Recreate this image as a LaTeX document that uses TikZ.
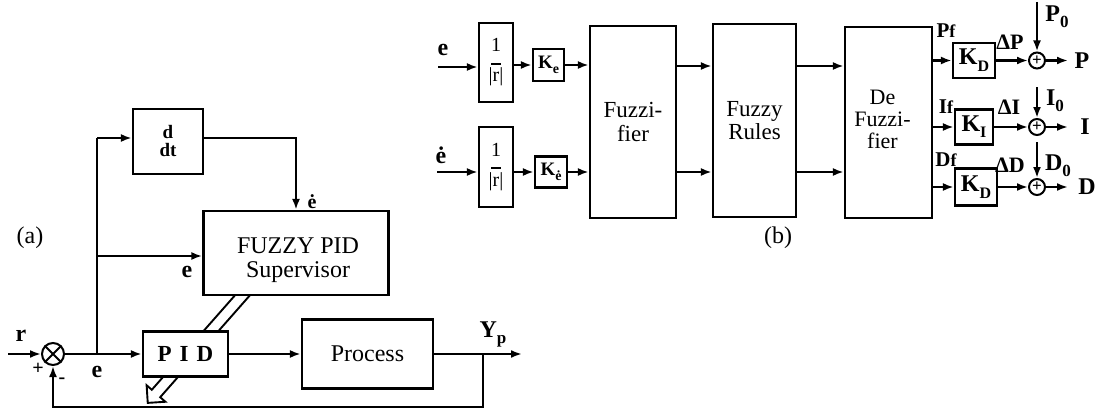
\documentclass[tikz,border=0pt]{standalone}
\usepackage{fontspec}
\setmainfont{Liberation Serif}
\usetikzlibrary{arrows.meta,calc}
\newcommand{\fs}[1]{\fontsize{#1}{#1}\selectfont}
\newcommand{\lowtxt}[3]{\raisebox{#1}{\fs{#2}#3}}
\newcommand{\invr}{\begin{tabular}{@{}c@{}}1\\[-7pt]\rule{10pt}{1.6pt}\\[-3pt]|r|\end{tabular}}
\begin{document}
\begin{tikzpicture}[x=1pt,y=-1pt,
  blk/.style={draw, line width=2.2pt, fill=white, inner sep=0pt, align=center},
  ln/.style={line width=2.2pt},
  arr/.style={line width=2.2pt, -{Latex[length=11pt,width=8pt]}},
  lbl/.style={inner sep=0pt},
  sumc/.style={draw, circle, line width=2pt, fill=white, inner sep=0pt, minimum size=16pt, font=\bfseries\fs{17}}
]
\useasboundingbox (0,0) rectangle (1102,412);

% ---------------- (a) ----------------
% hollow double-line arrow from supervisor to PID
\coordinate (hA) at (248,289);
\coordinate (hB) at (156,393.5);
\draw[line width=1.9pt, fill=white, line join=miter]
  ($(hA)!5.6pt!90:(hB)$) -- ($(hB)!5.6pt!-90:(hA)$) -- ($(hB)!12.5pt!-90:(hA)$)
  -- ($(hB)!12.5pt!180:(hA)$) -- ($(hB)!12.5pt!90:(hA)$) -- ($(hB)!5.6pt!90:(hA)$)
  -- ($(hA)!5.6pt!-90:(hB)$) -- cycle;

\node[blk, minimum width=70pt, minimum height=65pt, font=\bfseries\fs{19}, execute at begin node=\setlength{\baselineskip}{18pt}] (ddt) at (168,141.5) {d\\dt};
\node[blk, minimum width=185pt, minimum height=84pt] (fuzzy) at (296,253) {};
\node[lbl, align=center, font=\fs{24}] (fuzzyt) at (298,260) {FUZZY PID\\Supervisor};
\node[blk, minimum width=85pt, minimum height=45pt, font=\bfseries\fs{23}] (pid) at (185.5,354) {P\hspace{8pt}I\hspace{8pt}D};
\node[blk, minimum width=131pt, minimum height=69pt, font=\fs{24}] (proc) at (367.5,354) {\raisebox{-4pt}{Process}};
\node[draw, circle, line width=2pt, minimum size=22pt, inner sep=0pt] (sum) at (53,354) {};
\draw[line width=1.8pt] (sum.45) -- (sum.225) (sum.135) -- (sum.315);

\coordinate (rin) at (8,354);
\coordinate (j) at (97,354);
\coordinate (je) at (97,256);
\coordinate (jd) at (97,138);
\coordinate (yout) at (522,354);
\coordinate (fb) at (483,354);
\coordinate (fbb) at (483,407);

\draw[arr] (rin) -- (sum.west);
\draw[arr] (sum.east) -- (pid.west);
\draw[ln] (j) -- (jd);
\draw[arr] (jd) -- (jd -| ddt.west);
\draw[arr] (je) -- (je -| fuzzy.west);
\draw[arr] (ddt.east |- jd) -| (fuzzy.north);
\draw[arr] (pid.east) -- (proc.west);
\draw[arr] (proc.east) -- (yout);
\draw[arr] (fb) -- (fbb) -| (sum.south);

\node[lbl, font=\fs{24}] (la) at (30,238) {(a)};
\node[lbl, font=\bfseries\fs{24}] (lr) at (21,336) {r};
\node[lbl, font=\bfseries\fs{20}] (lplus) at (38,369) {+};
\node[lbl, font=\bfseries\fs{20}] (lminus) at (62,381) {-};
\node[lbl, font=\bfseries\fs{24}] (le1) at (97,372) {e};
\node[lbl, font=\bfseries\fs{24}] (le2) at (187,272) {e};
\node[lbl, font=\bfseries\fs{20}] (led) at (312,202) {ė};
\node[lbl, font=\bfseries\fs{24}] (lyp) at (493,334) {Y\lowtxt{-6pt}{17}{p}};

% ---------------- (b) ----------------
\node[blk, minimum width=34pt, minimum height=79pt, font=\fs{20}] (inv1) at (496,62.5) {\invr};
\node[blk, minimum width=31pt, minimum height=32pt, font=\bfseries\fs{19}] (ke) at (548.5,65) {K\lowtxt{-5pt}{14}{e}};
\node[blk, minimum width=34pt, minimum height=80pt, font=\fs{20}] (inv2) at (496,167) {\invr};
\node[blk, minimum width=32pt, minimum height=31pt, font=\bfseries\fs{19}] (ked) at (551,172) {K\lowtxt{-5pt}{14}{ė}};
\node[blk, minimum width=86pt, minimum height=192pt, font=\fs{23}, execute at begin node=\setlength{\baselineskip}{24pt}] (fz) at (633,122) {Fuzzi-\\fier};
\node[blk, minimum width=83pt, minimum height=193pt, font=\fs{23}, execute at begin node=\setlength{\baselineskip}{23pt}] (rules) at (754.5,120.5) {Fuzzy\\Rules};
\node[blk, minimum width=87pt, minimum height=191pt, font=\fs{22}, execute at begin node=\setlength{\baselineskip}{22pt}] (defz) at (888.5,122.5) {\hspace*{-12pt}\begin{tabular}{@{}c@{}}De\\Fuzzi-\\fier\end{tabular}};

\coordinate (r1) at (0,66);
\coordinate (r2) at (0,172);
\coordinate (ein) at (438,67);
\coordinate (edin) at (437,172);

\draw[arr] (ein) -- (ein -| inv1.west);
\draw[arr] (inv1.east |- ke) -- (ke.west);
\draw[arr] (ke.east) -- (ke.east -| fz.west);
\draw[arr] (edin) -- (edin -| inv2.west);
\draw[arr] (inv2.east |- ked) -- (ked.west);
\draw[arr] (ked.east) -- (ked.east -| fz.west);
\draw[arr] (fz.east |- r1) -- (rules.west |- r1);
\draw[arr] (fz.east |- r2) -- (rules.west |- r2);
\draw[arr] (rules.east |- r1) -- (defz.west |- r1);
\draw[arr] (rules.east |- r2) -- (defz.west |- r2);

\node[lbl, font=\bfseries\fs{24}] (lbe) at (443,50) {e};
\node[lbl, font=\bfseries\fs{24}] (lbed) at (441,155) {ė};

% output gains
\node[blk, minimum width=42pt, minimum height=35pt, font=\bfseries\fs{24}] (kp) at (974,60.5) {K\lowtxt{-7pt}{16}{D}};
\node[blk, minimum width=38pt, minimum height=35pt, font=\bfseries\fs{24}] (ki) at (974,127) {K\lowtxt{-6pt}{16}{I}};
\node[blk, minimum width=42pt, minimum height=37pt, font=\bfseries\fs{24}] (kd) at (976,187) {K\lowtxt{-7pt}{16}{D}};

\node[sumc] (sp) at (1037,60.5) {+};
\node[sumc] (si) at (1037,127) {+};
\node[sumc] (sd) at (1037,187) {+};

\coordinate (p0t) at (1037,2);
\coordinate (i0t) at (1037,87);
\coordinate (d0t) at (1037,142);
\coordinate (pout) at (1068,60.5);
\coordinate (iout) at (1068,127);
\coordinate (dout) at (1068,187);

\draw[arr] (defz.east |- kp) -- (kp.west);
\draw[arr] (defz.east |- ki) -- (ki.west);
\draw[arr] (defz.east |- kd) -- (kd.west);
\draw[arr] (kp.east) -- (sp.west);
\draw[arr] (ki.east) -- (si.west);
\draw[arr] (kd.east) -- (sd.west);
\draw[arr] (p0t) -- (sp.north);
\draw[arr] (i0t) -- (si.north);
\draw[arr] (d0t) -- (sd.north);
\draw[arr] (sp.east) -- (pout);
\draw[arr] (si.east) -- (iout);
\draw[arr] (sd.east) -- (dout);

\node[lbl, font=\bfseries\fs{21}] (lpf) at (946,31) {P{\fs{18}f}};
\node[lbl, font=\bfseries\fs{21}] (lif) at (946,107) {I{\fs{18}f}};
\node[lbl, font=\bfseries\fs{21}] (ldf) at (946,160) {D{\fs{18}f}};
\node[lbl, font=\bfseries\fs{22}] (ldp) at (1010,42) {ΔP};
\node[lbl, font=\bfseries\fs{22}] (ldi) at (1009,107) {ΔI};
\node[lbl, font=\bfseries\fs{22}] (ldd) at (1010,165) {ΔD};
\node[lbl, font=\bfseries\fs{24}] (lp0) at (1057,17) {P\lowtxt{-6pt}{17}{0}};
\node[lbl, font=\bfseries\fs{24}] (li0) at (1055,101) {I\lowtxt{-6pt}{17}{0}};
\node[lbl, font=\bfseries\fs{24}] (ld0) at (1058,166) {D\lowtxt{-6pt}{17}{0}};
\node[lbl, font=\bfseries\fs{24}] (lpo) at (1082,60.5) {P};
\node[lbl, font=\bfseries\fs{24}] (lio) at (1085,127) {I};
\node[lbl, font=\bfseries\fs{24}] (ldo) at (1087,187) {D};

\node[lbl, font=\fs{24}] (lb) at (778,238) {(b)};
\end{tikzpicture}
\end{document}
